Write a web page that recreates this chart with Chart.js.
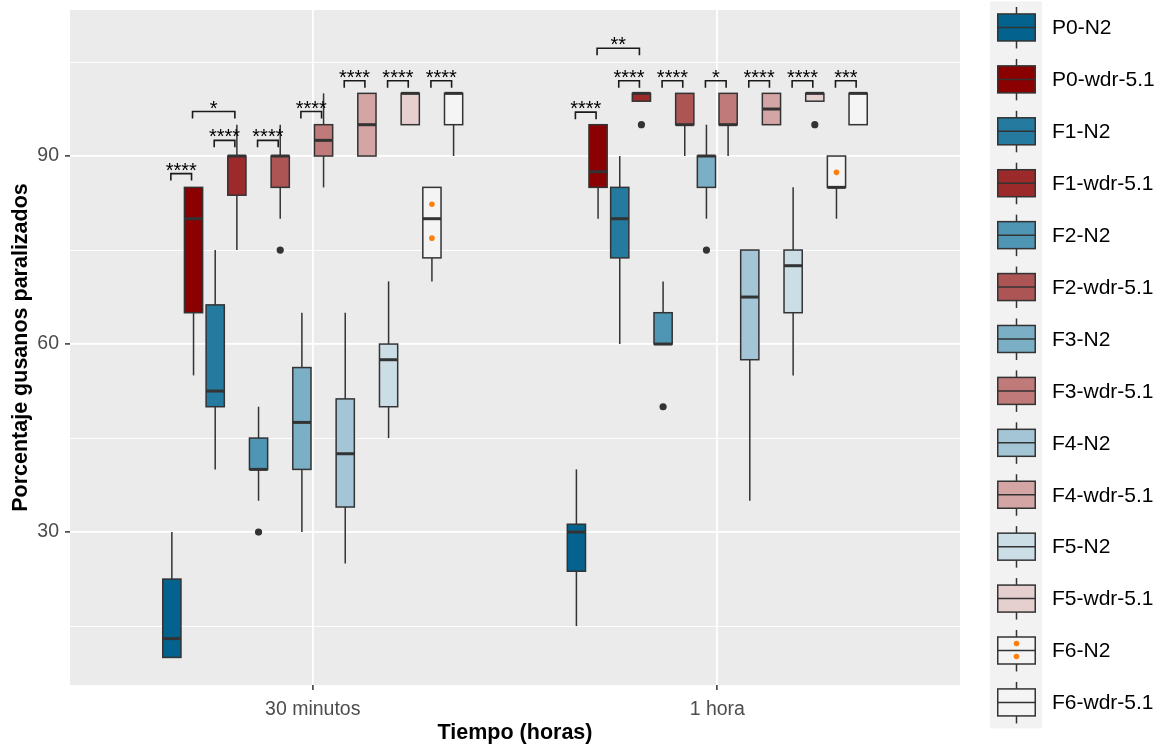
<!DOCTYPE html>
<html><head><meta charset="utf-8">
<script src="https://cdn.jsdelivr.net/npm/chart.js@4.4.0/dist/chart.umd.min.js"></script>
<style>html,body{margin:0;padding:0;background:#fff}canvas{display:block}</style>
</head><body>
<canvas id="c" width="1166" height="746"></canvas>
<script>
const categories = ['30 minutos', '1 hora'];
const groups = ['P0-N2','P0-wdr-5.1','F1-N2','F1-wdr-5.1','F2-N2','F2-wdr-5.1','F3-N2','F3-wdr-5.1','F4-N2','F4-wdr-5.1','F5-N2','F5-wdr-5.1','F6-N2','F6-wdr-5.1'];
const fillColors = ['#03638E','#8B0000','#257AA0','#9C2A2B','#4F95B4','#AD5555','#7BAFC6','#C07A7A','#A3C5D6','#D4A5A5','#CBDEE6','#E6CFCF','#F4F4F4','#F5F5F5'];
// [min, q1, median, q3, max]
const box30 = [
  [10, 10, 13, 22.5, 30],
  [55, 65, 80, 85, 85],
  [40, 50, 52.5, 66.25, 75],
  [75, 83.75, 90, 90, 95],
  [35, 40, 40, 45, 50],
  [80, 85, 90, 90, 95],
  [30, 40, 47.5, 56.25, 65],
  [85, 90, 92.5, 95, 100],
  [25, 34, 42.5, 51.25, 65],
  [90, 90, 95, 100, 100],
  [45, 50, 57.5, 60, 70],
  [95, 95, 100, 100, 100],
  [70, 73.75, 80, 85, 85],
  [90, 95, 100, 100, 100]
];
const box60 = [
  [15, 23.75, 30, 31.25, 40],
  [80, 85, 87.5, 95, 95],
  [60, 73.75, 80, 85, 90],
  [98.75, 98.75, 100, 100, 100],
  [60, 60, 60, 65, 70],
  [90, 95, 95, 100, 100],
  [80, 85, 90, 90, 95],
  [90, 95, 95, 100, 100],
  [35, 57.5, 67.5, 75, 75],
  [95, 95, 97.5, 100, 100],
  [55, 65, 72.5, 75, 85],
  [98.75, 98.75, 100, 100, 100],
  [80, 85, 85, 90, 90],
  [95, 95, 100, 100, 100]
];
// [groupIndex, value]
const outliers30 = [[4, 30], [5, 75]];
const outliers60 = [[3, 95], [4, 50], [6, 75], [11, 95]];
const orange30 = [[12, 82.3], [12, 76.9]];
const orange60 = [[12, 87.4]];
const yTicks = [15, 30, 45, 60, 75, 90, 105];
const yLabels = [30, 60, 90];
// [group a, group b, label, bracket height]
const sig30 = [[0,1,'****',87.2],[1,3,'*',97.1],[2,3,'****',92.5],[4,5,'****',92.5],[6,7,'****',97.1],[8,9,'****',102],[10,11,'****',102],[12,13,'****',102]];
const sig60 = [[1,3,'**',107.2],[0,1,'****',97],[2,3,'****',102],[4,5,'****',102],[6,7,'*',102],[8,9,'****',102],[10,11,'****',102],[12,13,'***',102]];

const DODGE = 0.75, N = groups.length, BOXW = 0.045;
const pos = (c, i) => (c + 1) - DODGE / 2 + (i + 0.5) * DODGE / N;
const toPts = (list, c) => list.map(([i, v]) => ({x: pos(c, i), y: v}));
const FONT = '"Liberation Sans", Arial, sans-serif';

function seg(ctx, x1, y1, x2, y2) { ctx.beginPath(); ctx.moveTo(x1, y1); ctx.lineTo(x2, y2); ctx.stroke(); }

const boxPlugin = {
  id: 'boxes',
  beforeDraw(chart) {
    const {ctx, chartArea: a} = chart;
    ctx.save(); ctx.fillStyle = '#EBEBEB'; ctx.fillRect(a.left, a.top, a.right - a.left, a.bottom - a.top); ctx.restore();
  },
  beforeDatasetsDraw(chart) {
    const {ctx, scales: {x, y}} = chart;
    ctx.save();
    [box30, box60].forEach((boxes, c) => {
      boxes.forEach((s, i) => {
        const cx = x.getPixelForValue(pos(c, i));
        const half = x.getPixelForValue(pos(c, i) + BOXW / 2) - cx;
        const [mn, q1, md, q3, mx] = s.map(v => y.getPixelForValue(v));
        ctx.strokeStyle = '#333'; ctx.lineWidth = 1.5;
        if (mx < q3) seg(ctx, cx, q3, cx, mx);
        if (mn > q1) seg(ctx, cx, q1, cx, mn);
        ctx.fillStyle = fillColors[i];
        ctx.fillRect(cx - half, q3, 2 * half, q1 - q3);
        ctx.strokeRect(cx - half, q3, 2 * half, q1 - q3);
        ctx.lineWidth = 3;
        seg(ctx, cx - half, md, cx + half, md);
      });
    });
    ctx.restore();
  },
  afterDatasetsDraw(chart) {
    const {ctx, scales: {x, y}} = chart;
    ctx.save();
    ctx.strokeStyle = '#1a1a1a'; ctx.lineWidth = 1.6;
    ctx.fillStyle = '#000'; ctx.font = '20px ' + FONT; ctx.textAlign = 'center'; ctx.textBaseline = 'alphabetic';
    [sig30, sig60].forEach((sigs, c) => {
      sigs.forEach(([a, b, label, v]) => {
        const x1 = x.getPixelForValue(pos(c, a)) - 1, x2 = x.getPixelForValue(pos(c, b)) - 2;
        const yy = y.getPixelForValue(v);
        ctx.beginPath(); ctx.moveTo(x1, yy + 7); ctx.lineTo(x1, yy); ctx.lineTo(x2, yy); ctx.lineTo(x2, yy + 7); ctx.stroke();
        ctx.fillText(label, (x1 + x2) / 2, yy + 3);
      });
    });
    ctx.restore();
  },
  afterDraw(chart) {
    const {ctx} = chart;
    const kx0 = 990, kw = 52, ky0 = 1.5, kh = 51.92, kcx = 1016.5;
    ctx.save();
    ctx.fillStyle = '#F2F2F2';
    ctx.fillRect(kx0, ky0, kw, kh * N);
    groups.forEach((g, i) => {
      const cy = ky0 + kh * (i + 0.5);
      ctx.strokeStyle = '#333'; ctx.lineWidth = 1.5;
      seg(ctx, kcx, cy - 20.5, kcx, cy - 13.5);
      seg(ctx, kcx, cy + 13.5, kcx, cy + 21);
      ctx.fillStyle = fillColors[i];
      ctx.fillRect(997.75, cy - 13.5, 37.5, 27);
      ctx.strokeRect(997.75, cy - 13.5, 37.5, 27);
      seg(ctx, 997.75, cy, 1035.25, cy);
      if (i === 12) {
        ctx.fillStyle = '#FF7F0E';
        [-7, 6].forEach(d => { ctx.beginPath(); ctx.arc(kcx, cy + d, 2.8, 0, Math.PI * 2); ctx.fill(); });
      }
      ctx.fillStyle = '#000'; ctx.font = '21px ' + FONT; ctx.textAlign = 'left'; ctx.textBaseline = 'middle';
      ctx.fillText(g, 1052, cy + 1);
    });
    ctx.restore();
  }
};

new Chart(document.getElementById('c'), {
  type: 'scatter',
  data: {
    datasets: [
      {label: 'outliers', data: [...toPts(outliers30, 0), ...toPts(outliers60, 1)], pointRadius: 3.6, pointBackgroundColor: '#333', pointBorderWidth: 0},
      {label: 'mean', data: [...toPts(orange30, 0), ...toPts(orange60, 1)], pointRadius: 2.8, pointBackgroundColor: '#FF7F0E', pointBorderWidth: 0}
    ]
  },
  options: {
    responsive: false, devicePixelRatio: 1, animation: false, events: [],
    layout: {padding: {left: 0, top: 10, right: 206, bottom: 0}},
    plugins: {legend: {display: false}, tooltip: {enabled: false}},
    scales: {
      x: {
        type: 'linear', min: 0.4, max: 2.6,
        afterBuildTicks: s => { s.ticks = [{value: 1}, {value: 2}]; },
        afterFit: s => { s.height = 61; s.paddingLeft = 0; s.paddingRight = 0; },
        ticks: {autoSkip: false, maxRotation: 0, minRotation: 0, padding: 8, color: '#4D4D4D', font: {family: FONT, size: 19.5},
          callback: v => v === 1 ? categories[0] : (v === 2 ? categories[1] : '')},
        grid: {color: '#FFFFFF', lineWidth: 1.8, tickColor: '#333', tickLength: 5, tickWidth: 1.5},
        border: {display: false},
        title: {display: true, text: 'Tiempo (horas)', color: '#000', font: {family: FONT, size: 21.5, weight: 'bold'}, padding: {top: 0, bottom: 0}}
      },
      y: {
        type: 'linear', min: 5.6, max: 113.3,
        afterBuildTicks: s => { s.ticks = yTicks.map(v => ({value: v})); },
        afterFit: s => { s.width = 70; s.paddingTop = 0; s.paddingBottom = 0; },
        ticks: {padding: 6, color: '#4D4D4D', font: {family: FONT, size: 19.5},
          callback: v => yLabels.includes(v) ? String(v) : ''},
        grid: {color: '#FFFFFF',
          lineWidth: c => yLabels.includes(c.tick.value) ? 1.8 : 0.9,
          tickColor: c => yLabels.includes(c.tick.value) ? '#333' : 'rgba(0,0,0,0)',
          tickLength: 5, tickWidth: 1.5},
        border: {display: false},
        title: {display: true, text: 'Porcentaje gusanos paralizados', color: '#000', font: {family: FONT, size: 21.5, weight: 'bold'}, padding: {top: 8, bottom: 0}}
      }
    }
  },
  plugins: [boxPlugin]
});
</script>
</body></html>
